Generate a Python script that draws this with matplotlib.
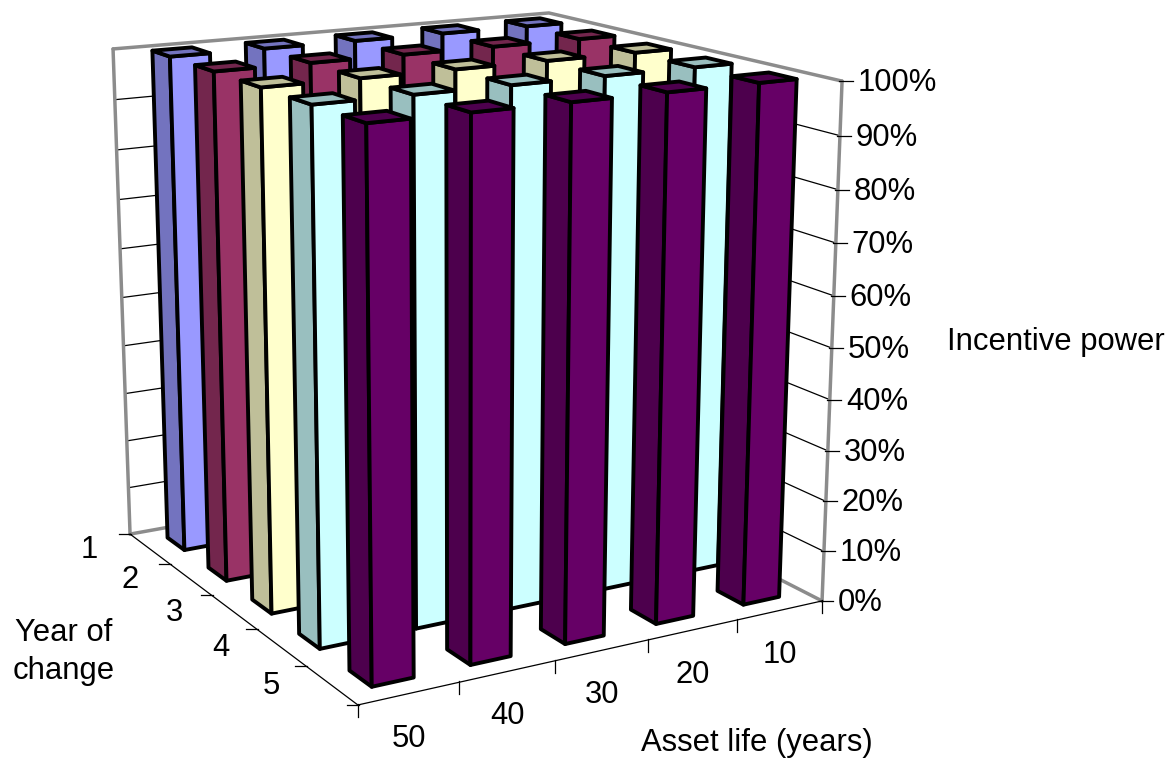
import numpy as np
import matplotlib
matplotlib.use('Agg')
import matplotlib.pyplot as plt
from matplotlib.lines import Line2D
from mpl_toolkits.mplot3d import proj3d
from mpl_toolkits.mplot3d.art3d import Poly3DCollection

plt.rcParams['font.family'] = ['Liberation Sans', 'DejaVu Sans']

# Data
asset_life = [50, 40, 30, 20, 10]
year_of_change = [1, 2, 3, 4, 5]
incentive_power = [
    [1.0, 1.0, 1.0, 1.0, 1.0],
    [1.0, 1.0, 1.0, 1.0, 1.0],
    [1.0, 1.0, 1.0, 1.0, 1.0],
    [1.0, 1.0, 1.0, 1.0, 1.0],
    [1.0, 1.0, 1.0, 1.0, 1.0],
]
z_ticks = [0, 0.1, 0.2, 0.3, 0.4, 0.5, 0.6, 0.7, 0.8, 0.9, 1.0]
series_colors = ['#9999FF', '#993366', '#FFFFCC', '#CCFFFF', '#660066']

W, H = 1170, 758
BAR_WIDTH = 0.42
BAR_OFFSET = 0.29
FONT = 22.3
GREY = '#8C8C8C'

# Camera: solve the projective matrix from the box corners (x, y, z) -> pixel
corners = [
    ((0, 0, 0), (130, 534)),
    ((0, 5, 0), (358, 705)),
    ((5, 5, 0), (822, 601)),
    ((0, 0, 1), (113, 49)),
    ((5, 0, 1), (549, 13)),
    ((5, 5, 1), (842, 81)),
]
rows = []
for (x, y, z), (u, v) in corners:
    rows.append([x, y, z, 1, 0, 0, 0, 0, -u*x, -u*y, -u*z, -u])
    rows.append([0, 0, 0, 0, x, y, z, 1, -v*x, -v*y, -v*z, -v])
P = np.linalg.svd(np.array(rows, dtype=float))[2][-1].reshape(3, 4)
if P[2, 3] < 0:
    P = -P
P = P / P[2, 3]
M = np.array([P[0], P[1], [0, 0, 0, -1], P[2]])

fig = plt.figure(figsize=(W/100, H/100), dpi=100, facecolor='white')
side = W / H
ax = fig.add_axes([0, (1 - side)/2, 1, side], projection='3d', computed_zorder=False)
ax.set_proj_type('ortho')
ax.get_proj = lambda: M
ax.set_axis_off()
pad = (W - H) / 2
ax.viewLim.intervalx = (0, W)
ax.viewLim.intervaly = (H + pad, -pad)


def to_px(x, y, z):
    u, v, _ = proj3d.proj_transform(x, y, z, M)
    return float(u), float(v)


def tick(x, y, z, dx0, dy0, dx1, dy1):
    u, v = to_px(x, y, z)
    ax.add_artist(Line2D([u + dx0, u + dx1], [v + dy0, v + dy1], color='black', lw=0.9,
                         transform=ax.transData, zorder=1))


def label(text, u, v, dx, dy, ha='center'):
    ax.annotate(text, xy=(u, v), xytext=(dx, -dy), textcoords='offset pixels',
                ha=ha, va='center', fontsize=FONT, color='black')


# Walls: gridlines and grey frame
for zt in z_ticks[1:-1]:
    ax.plot([0, 5], [0, 0], [zt, zt], color='black', lw=0.9, zorder=1)
    ax.plot([5, 5], [0, 5], [zt, zt], color='black', lw=0.9, zorder=1)

frame = dict(color=GREY, lw=2.5, zorder=1, solid_capstyle='round')
ax.plot([0, 5, 5], [0, 0, 5], [1, 1, 1], **frame)
ax.plot([0, 0], [0, 0], [0, 1], **frame)
ax.plot([5, 5], [5, 5], [0, 1], **frame)
ax.plot([0, 5, 5], [0, 0, 5], [0, 0, 0], **frame)

# Front floor edges
ax.plot([0, 0, 5], [0, 5, 5], [0, 0, 0], color='black', lw=0.9, zorder=1)

# Ticks and labels
for zt in z_ticks:
    u, v = to_px(5, 5, zt)
    tick(5, 5, zt, -3, 0, 11, 0)
    label('%d%%' % round(zt*100), u, v, 16, 2, ha='left')

for j in range(len(year_of_change) + 1):
    tick(0, j, 0, 1, 0, -11, 0)
for j, yr in enumerate(year_of_change):
    u, v = to_px(0, j + 0.5, 0)
    label(str(yr), u, v, -60, 1)

for i in range(len(asset_life) + 1):
    tick(i, 5, 0, 0, -1, 0, 12)
for i, life in enumerate(asset_life):
    u, v = to_px(i + 0.5, 5, 0)
    label(str(life), u, v, 0, 45)


# Bars, back row first and right to left within a row
def draw_bar(i, j, value, color, order):
    x0, x1 = i + BAR_OFFSET, i + BAR_OFFSET + BAR_WIDTH
    y0, y1 = j + BAR_OFFSET, j + BAR_OFFSET + BAR_WIDTH
    front = [(x0, y1, 0), (x1, y1, 0), (x1, y1, value), (x0, y1, value)]
    left = [(x0, y0, 0), (x0, y1, 0), (x0, y1, value), (x0, y0, value)]
    top = [(x0, y0, value), (x1, y0, value), (x1, y1, value), (x0, y1, value)]
    rgb = np.array(matplotlib.colors.to_rgb(color))
    dark = tuple(rgb * 0.75)
    col = Poly3DCollection([left, top, front], facecolors=[dark, dark, color],
                           edgecolors='black', linewidths=2.8, joinstyle='round',
                           zorder=order)
    ax.add_collection3d(col)


order = 2
for j in range(len(year_of_change)):
    for i in reversed(range(len(asset_life))):
        draw_bar(i, j, incentive_power[j][i], series_colors[j], order)
        order += 1

# Axis titles
fig.text(947/W, 1 - 342/H, 'Incentive power', fontsize=FONT, ha='left', va='center')
fig.text(64/W, 1 - 652/H, 'Year of\nchange', fontsize=FONT, ha='center', va='center', linespacing=1.32)
fig.text(641/W, 1 - 751/H, 'Asset life (years)', fontsize=FONT, ha='left', va='baseline')

fig.savefig('out.png', dpi=100, facecolor='white')
